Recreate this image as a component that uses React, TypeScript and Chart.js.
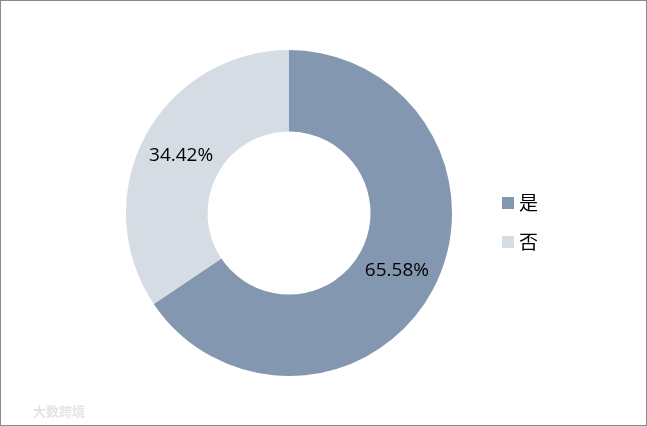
import React, { useEffect, useRef } from "react";
import { Chart, registerables } from "chart.js";

Chart.register(...registerables);

const categories = ["是", "否"];
const values = [65.58, 34.42];
const valueLabels = ["65.58%", "34.42%"];
const colors = ["#8497B0", "#D6DCE4"];

export default function App() {
  const ref = useRef<HTMLCanvasElement | null>(null);

  useEffect(() => {
    if (!ref.current) return;
    const overlay = {
      id: "overlay",
      afterDatasetsDraw(chart: any) {
        const ctx = chart.ctx;
        const meta = chart.getDatasetMeta(0);
        ctx.save();
        ctx.fillStyle = "#000";
        ctx.font = "19px 'Open Sans', 'Liberation Sans', sans-serif";
        ctx.textAlign = "center";
        ctx.textBaseline = "middle";
        meta.data.forEach((arc: any, i: number) => {
          const p = arc.tooltipPosition();
          ctx.fillText(valueLabels[i], p.x, p.y);
        });
        // legend
        const lx = 502;
        const ly0 = 203;
        const gap = 39;
        categories.forEach((c, i) => {
          const cy = ly0 + i * gap;
          ctx.fillStyle = colors[i];
          ctx.fillRect(lx, cy - 6, 12, 12);
          ctx.fillStyle = "#000";
          ctx.textAlign = "left";
          ctx.font = "19px 'Noto Sans CJK SC', sans-serif";
          ctx.fillText(c, lx + 17, cy);
        });
        // watermark
        ctx.fillStyle = "#E4E4E4";
        ctx.font = "bold 13px 'Noto Sans CJK SC', sans-serif";
        ctx.fillText("大数跨境", 33, 411);
        // border
        ctx.strokeStyle = "#8A8A8A";
        ctx.lineWidth = 1;
        ctx.strokeRect(0.5, 0.5, chart.width - 1, chart.height - 1);
        ctx.restore();
      },
    };
    const chart = new Chart(ref.current, {
      type: "doughnut",
      data: {
        labels: categories,
        datasets: [
          {
            data: values,
            backgroundColor: colors,
            borderWidth: 0,
          },
        ],
      },
      options: {
        animation: false,
        responsive: false,
        maintainAspectRatio: false,
        cutout: "50%",
        layout: { padding: { left: 126, right: 195, top: 50, bottom: 50 } },
        plugins: {
          legend: { display: false },
          tooltip: { enabled: false },
        },
      },
      plugins: [overlay],
    });
    return () => chart.destroy();
  }, []);

  return (
    <div style={{ position: "fixed", left: 0, top: 0, width: 647, height: 426, background: "#fff" }}>
      <canvas ref={ref} width={647} height={426} style={{ display: "block", width: 647, height: 426 }} />
    </div>
  );
}
